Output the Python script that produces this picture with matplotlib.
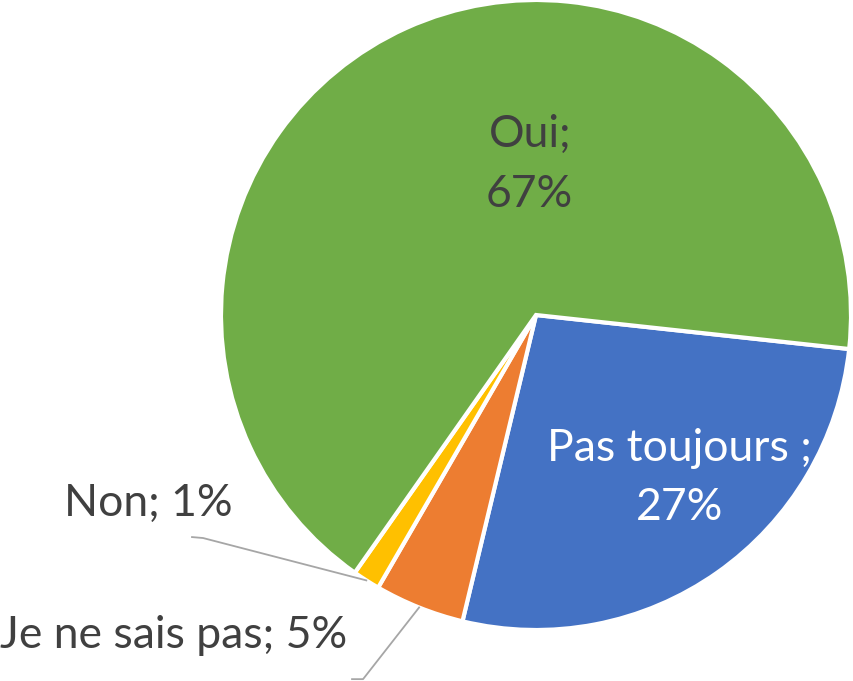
import matplotlib
matplotlib.use('Agg')
import matplotlib.pyplot as plt
import numpy as np

# réponses (ordre de tracé, sens horaire)
categories = ['Pas toujours ', 'Je ne sais pas', 'Non', 'Oui']
values = [27.0, 4.6, 1.4, 66.9]
colors = ['#4472C4', '#ED7D31', '#FFC000', '#70AD47']

plt.rcParams['font.family'] = ['Lato', 'DejaVu Sans']

fig = plt.figure(figsize=(8.54, 6.81), dpi=100)
W, H = 854, 681
cx, cy, r = 536, 315, 315
ax = fig.add_axes([(cx - r) / W, (H - cy - r) / H, 2 * r / W, 2 * r / H])

wedges, _ = ax.pie(values, colors=colors, startangle=-6.2, counterclock=False,
                   radius=1, wedgeprops=dict(edgecolor='white', linewidth=3))
ax.set_xlim(-1, 1)
ax.set_ylim(-1, 1)
ax.set_aspect('equal')
ax.axis('off')

total = sum(values)
pct = [v / total * 100 for v in values]

fs = 32
txt_dark = '#404040'
line_col = '#A6A6A6'

# étiquettes dans les secteurs
ax.text(-0.02, 0.478, 'Oui;\n%.0f%%' % pct[3], ha='center', va='center',
        fontsize=fs, color=txt_dark, linespacing=1.55)
ax.text(0.455, -0.518, 'Pas toujours ;\n%.0f%%' % pct[0], ha='center', va='center',
        fontsize=fs, color='white', linespacing=1.55)


def tip_of(w):
    ang = np.deg2rad((w.theta1 + w.theta2) / 2)
    return np.cos(ang), np.sin(ang)


# lignes de rappel pour les petits secteurs
tx, ty = tip_of(wedges[2])
ax.plot([-1.092, -1.057, tx], [-0.705, -0.708, ty], color=line_col, lw=1.3, clip_on=False)
tx, ty = tip_of(wedges[1])
ax.plot([-0.584, -0.549, tx], [-1.156, -1.156, ty], color=line_col, lw=1.3, clip_on=False)

ax.text(-0.962, -0.597, '%s; %.0f%%' % (categories[2], pct[2]), ha='right', va='center',
        fontsize=fs, color=txt_dark)
ax.text(-0.6, -1.016, '%s; %.0f%%' % (categories[1], pct[1]), ha='right', va='center',
        fontsize=fs, color=txt_dark)

fig.savefig('out.png', dpi=100)
